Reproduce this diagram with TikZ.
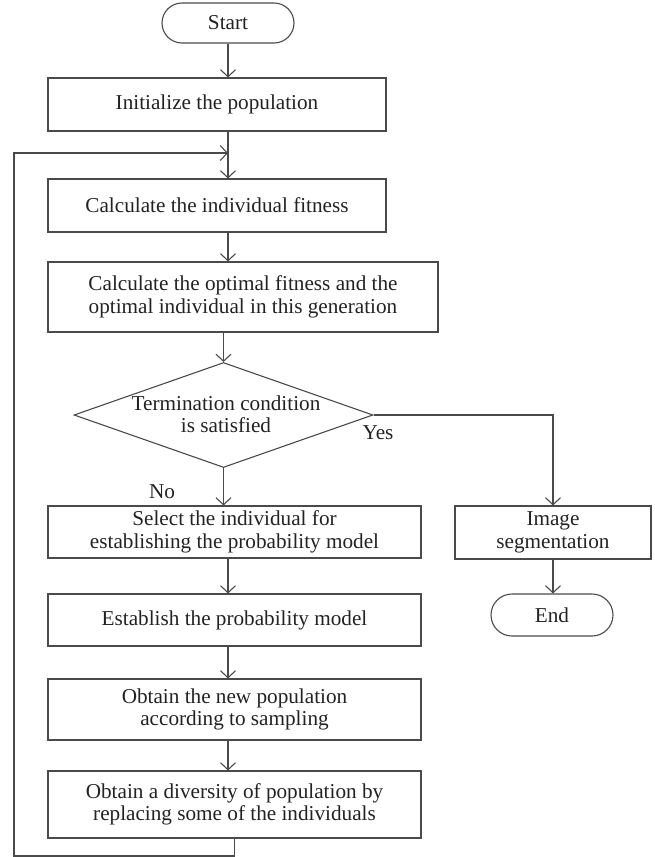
\documentclass[tikz,border=0pt]{standalone}
\usepackage{fontspec}
\setmainfont{Liberation Serif}
\usetikzlibrary{shapes.geometric,arrows.meta}
\definecolor{linec}{HTML}{4A4A4A}
\definecolor{textc}{HTML}{222222}
\begin{document}
\begin{tikzpicture}[x=1pt,y=-1pt,
  every node/.style={text=textc,font=\fontsize{21.2}{22.5}\selectfont},
  proc/.style={draw=linec,line width=1.1pt,rectangle,inner sep=0pt,align=center},
  term/.style={draw=linec,line width=1.1pt,rectangle,rounded corners=20pt,inner sep=0pt,align=center},
  decision/.style={draw=linec,line width=1.1pt,diamond,inner sep=0pt},
  arr/.style={draw=linec,line width=1.1pt,-{Straight Barb[length=7pt,width=15pt]}},
  lin/.style={draw=linec,line width=1.1pt}]
\useasboundingbox (0,0) rectangle (655,857);
\node[term,minimum width=132,minimum height=40] (start) at (228,23) {Start};
\node[proc,minimum width=338,minimum height=53] (init) at (217,104.5) {Initialize the population};
\node[proc,minimum width=338,minimum height=53] (calc) at (217,205.5) {Calculate the individual fitness};
\node[proc,minimum width=390,minimum height=70] (opt) at (243,297) {Calculate the optimal fitness and the\\optimal individual in this generation};
\node[decision,minimum width=299,minimum height=105] (dec) at (223.5,415) {};
\node[align=center,inner sep=0pt] (dectext) at (226,414) {Termination condition\\is satisfied};
\node[proc,minimum width=373,minimum height=52] (sel) at (234.5,532) {Select the individual for\\establishing the probability model};
\node[proc,minimum width=373,minimum height=52] (est) at (234.5,620) {Establish the probability model};
\node[proc,minimum width=373,minimum height=61] (samp) at (234.5,709.5) {Obtain the new population\\according to sampling};
\node[proc,minimum width=373,minimum height=67] (div) at (234.5,804.5) {Obtain a diversity of population by\\replacing some of the individuals};
\node[proc,minimum width=196,minimum height=53] (img) at (553,532.5) {Image\\segmentation};
\node[term,minimum width=122,minimum height=42,rounded corners=21pt] (end) at (552,615) {End};
\node[inner sep=0pt] (yes) at (378,433) {Yes};
\node[inner sep=0pt] (no) at (162,492) {No};
\coordinate (col) at (228,0);
\coordinate (lp1) at (234.5,856);
\coordinate (lp2) at (14,856);
\coordinate (lp3) at (14,153);
\coordinate (lp4) at (228,153);
\draw[arr] (start.south) -- (start.south |- init.north);
\draw[arr] (init.south -| col) -- (calc.north -| col);
\draw[arr] (calc.south -| col) -- (opt.north -| col);
\draw[arr] (opt.south -| dec) -- (dec.north);
\draw[arr] (dec.south) -- (dec.south |- sel.north);
\draw[arr] (dec.east) -| (img.north);
\draw[arr] (sel.south -| col) -- (est.north -| col);
\draw[arr] (est.south -| col) -- (samp.north -| col);
\draw[arr] (samp.south -| col) -- (div.north -| col);
\draw[arr] (img.south) -- (img.south |- end.north);
\draw[arr] (div.south) -- (lp1) -- (lp2) -- (lp3) -- (lp4);
\end{tikzpicture}
\end{document}
